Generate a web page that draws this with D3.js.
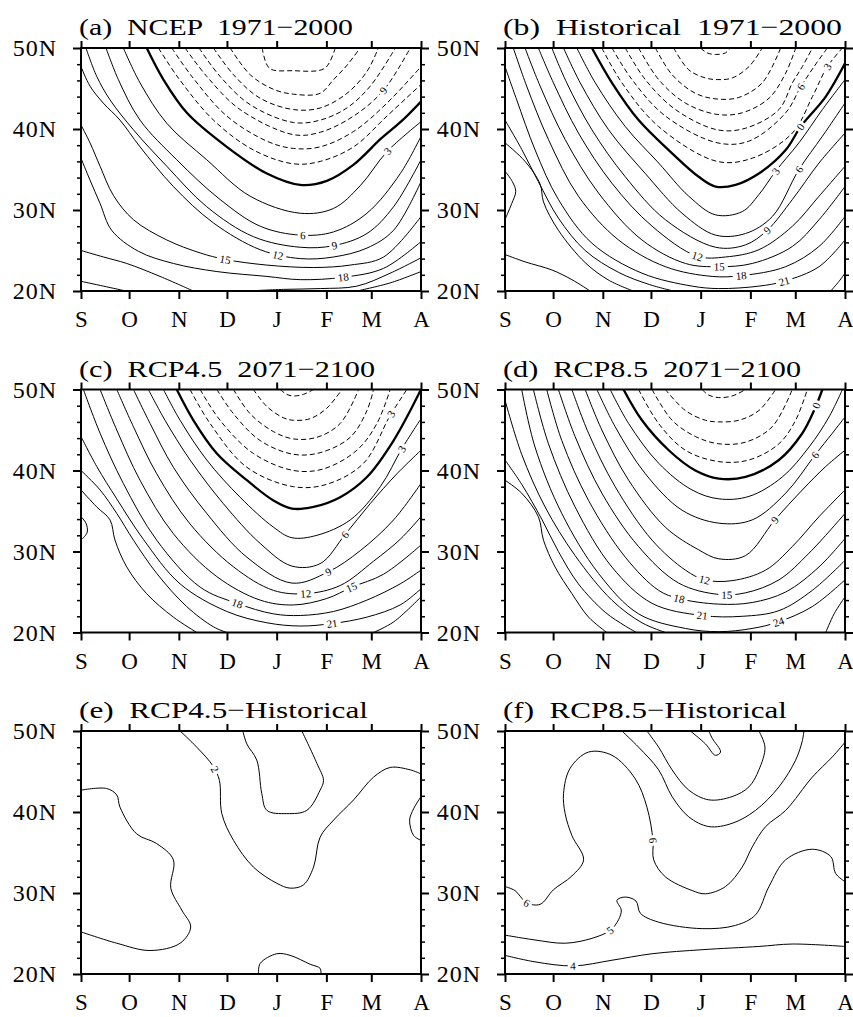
<!DOCTYPE html>
<html>
<head>
<meta charset="utf-8">
<script src="https://cdn.jsdelivr.net/npm/d3@7"></script>
<style>
  body { margin: 0; background: #fff; }
  text { font-family: "Liberation Serif", "Times New Roman", serif; }
</style>
</head>
<body>
<div id="chart"></div>
<script>
// x = days since 1 Sep, y = latitude (deg N)
const months = ["S", "O", "N", "D", "J", "F", "M", "A"]
const monthStart = [0, 30, 61, 91, 122, 153, 181, 212]
const latMajor = [20, 30, 40, 50]
const latMinor = [22, 24, 26, 28, 32, 34, 36, 38, 42, 44, 46, 48]
const titles = [
  "(a) NCEP 1971\u22122000", "(b) Historical 1971\u22122000",
  "(c) RCP4.5 2071\u22122100", "(d) RCP8.5 2071\u22122100",
  "(e) RCP4.5\u2212Historical", "(f) RCP8.5\u2212Historical"
]
const titleWidths = [274, 339, 296, 298, 289, 284]

// (a) NCEP 1971-2000 contour lines, [day, lat]
const ncep = [
  { level: -21, pts: [[113,50],[117.5,47.5],[132,47.2],[152,47.5],[158.5,50]] },
  { level: -18, pts: [[93,50],[105.5,46.7],[120,44.9],[132.5,44.3],[149,44.4],[157.5,46.1],[166,47.9],[174,50]] },
  { level: -15, pts: [[82.6,50],[95.1,46.7],[111.7,43.8],[132.5,42.4],[149.2,42.6],[165.8,44.4],[178.3,47.1],[185.4,50]] },
  { level: -12, pts: [[73.6,50],[86.7,46.5],[105.5,43],[132.5,40.8],[149.2,41.1],[165.8,42.6],[180.4,45.3],[196,50]] },
  { level: -9, pts: [[64.9,50],[78.4,46.5],[99.2,42.4],[132.5,39.3],[149.2,39.6],[170,41.6],[188.7,44.8],[205.3,50]] },
  { level: -6, pts: [[56.6,50],[69.1,46.5],[90.9,41.6],[115.9,38.5],[132.5,37.6],[149.2,37.8],[170,39.7],[190.8,43.2],[212,47.7]] },
  { level: -3, pts: [[48.3,50],[60.7,46.3],[82.6,41.1],[107.6,37.4],[132.5,35.7],[149.2,36],[170,37.8],[190.8,41.6],[212,45.5]] },
  { level: 0, pts: [[41,50],[51.4,46.1],[66,42],[90.9,37.8],[115.9,34.5],[136.7,33.1],[153.3,33.6],[170,35.6],[187,38.8],[200,41],[212,43.4]] },
  { level: 3, pts: [[26.4,50],[36.8,45.7],[53.5,40.7],[78.4,36.2],[105.5,31.7],[136.7,29.6],[157.5,30.2],[174.1,33],[190.8,37.2],[212,40.9]] },
  { level: 6, pts: [[15.6,50],[23.3,46.1],[36.8,41.1],[59.7,36.2],[86.7,31.3],[111.7,28],[136.7,26.9],[157.5,27.3],[178.3,29.6],[199.1,34.5],[212,39.1]] },
  { level: 9, pts: [[3.1,50],[9.8,46.5],[18.1,43.6],[32.7,39.9],[53.5,35.4],[78.4,30.4],[107.6,26.7],[136.7,25.4],[157.5,25.6],[178.3,27.1],[194.9,30.4],[212,36.2]] },
  { level: 12, pts: [[0,47.7],[5.6,45.3],[13.9,43.2],[24.3,41.1],[36.8,37.8],[57.6,32.9],[82.6,28.4],[111.7,25.1],[136.7,24],[157.5,24.2],[178.3,25.3],[194.9,27.5],[212,33.5]] },
  { level: 15, pts: [[0,40.5],[5.6,38.3],[11.9,35.4],[20.2,31.8],[32.7,28.8],[53.5,26.3],[74.3,24.7],[89.9,23.9],[115.9,23.2],[145,22.9],[167.9,23.2],[188.7,24.2],[212,29.2]] },
  { level: 18, pts: [[0,36.4],[5.6,33.7],[11.9,30.8],[19.1,27.5],[35.8,24.9],[57.6,23.4],[84.7,22.4],[115.9,21.8],[136.7,21.4],[163.7,21.7],[188.7,22.8],[212,26.1]] },
  { level: 21, pts: [[0,25],[14,24.2],[28.5,23.4],[49.3,21.8],[70,20]] },
  { level: 21, pts: [[103.4,20],[126.3,20.2],[149.2,20.3],[172,20.6],[192.8,22.2],[212,24.1]] },
  { level: 24, pts: [[0,21.2],[14,20.6],[28,20]] },
  { level: 24, pts: [[172,20],[192.8,21],[212,22.4]] }
]
const ncepLabels = [[138.3,26.9],[157.9,25.6],[122.1,24.0],[89.9,23.9],[163.7,21.7],[190.8,37.4],[188.7,44.8]]

// (b) Historical 1971-2000
const historical = [
  { level: -21, pts: [[121.9,50],[126,49.4],[131.3,49.2],[137.5,49.4],[140.6,50]] },
  { level: -18, pts: [[105.2,50],[114.6,47.3],[125,46.3],[132.3,46.1],[141.7,46.3],[152.1,47.7],[160.4,50]] },
  { level: -15, pts: [[93.8,50],[104.2,46.7],[118.8,44.4],[132.3,43.7],[145.8,43.9],[160.4,45.7],[171.9,50]] },
  { level: -12, pts: [[83.3,50],[95.8,46.1],[112.5,43.2],[132.3,41.8],[147.9,42],[164.6,43.8],[175,46.9],[181.3,50]] },
  { level: -9, pts: [[75,50],[87.5,46.1],[106.3,42.4],[132.3,39.9],[150,40.1],[170.8,42.4],[179.2,45.7],[185.4,47.7],[191.7,50]] },
  { level: -6, pts: [[66.7,50],[79.2,46.1],[100,41.6],[132.3,38.3],[152.1,38.5],[175,42],[184.4,45.2],[192.7,47.7],[201,50]] },
  { level: -3, pts: [[60.4,50],[72.9,45.7],[95.8,40.3],[132.3,36],[154.2,36.4],[179.2,39.5],[191.7,44],[201,47.7],[210.4,50]] },
  { level: 0, pts: [[54.2,50],[66.7,45.7],[83.3,41.1],[104.2,37],[120.8,34.1],[131.3,32.9],[143.8,33.1],[158.3,34.5],[175,37.4],[184.4,40.3],[200,44],[212,48.1]] },
  { level: 3, pts: [[44.8,50],[56.3,45.7],[75,40.3],[95.8,35.8],[114.6,31.7],[131.3,29.4],[147.9,29.8],[158.3,31.9],[168.8,34.8],[183.3,38.3],[197.9,42.4],[212,46.1]] },
  { level: 6, pts: [[36.5,50],[46.9,45.7],[64.6,39.9],[87.5,34.5],[110.4,29.6],[131.3,26.9],[150,27.1],[166.7,29.2],[183.3,35],[197.9,39.1],[212,43.2]] },
  { level: 9, pts: [[29.2,50],[38.5,45.7],[54.2,39.9],[75,34.1],[100,28.8],[131.3,25.4],[150,25.7],[163.5,27.5],[179.2,31.3],[195.8,35.8],[212,39.5]] },
  { level: 12, pts: [[20.8,50],[30.2,45.7],[45.8,39.5],[66.7,33.3],[91.7,28],[119.8,24.3],[137.5,24.2],[158.3,25.1],[179.2,28],[195.8,31.7],[212,35.4]] },
  { level: 15, pts: [[12.5,50],[21.9,45.3],[37.5,38.7],[58.3,32.1],[85.4,26.3],[112.5,23.4],[133.3,23],[154.2,23.4],[179.2,25.5],[195.8,28.8],[212,32.9]] },
  { level: 18, pts: [[5.2,50],[13.5,45.3],[27.1,38.7],[45.8,31.7],[70.8,26.3],[100,23],[129.2,21.8],[147.5,21.9],[175,23],[195.8,25.5],[212,29.2]] },
  { level: 21, pts: [[0,47.7],[7.3,43.6],[18.8,37.4],[33.3,31.3],[54.2,25.9],[85.4,22.2],[116.7,20.6],[133.3,20.3],[158.3,20.6],[174,21.2],[195.8,23],[212,26.3]] },
  { level: 24, pts: [[0,41.1],[10.4,37.5],[20.8,33.5],[33.3,29],[50,25],[70.8,22.3],[90,20.8],[105,20]] },
  { level: 27, pts: [[0,38.3],[12.5,36],[21.9,33.2],[24,31],[33.3,27.5],[50,23.5],[65,21.3],[80,20]] },
  { level: 30, pts: [[0,34.8],[4.6,33.5],[6.7,32.3],[4.2,30.8],[1.7,29.6],[0,28.8]] },
  { level: 27, pts: [[0,24.5],[12.5,23.6],[29.2,22.6],[41.7,21.4],[53.1,20]] },
  { level: 24, pts: [[203.1,20],[208.3,21.2],[212,22.2]] }
]
const historicalLabels = [[201,47.7],[184.4,45.2],[184.4,40.3],[168.8,34.8],[183.3,35],[163.5,27.5],[119.8,24.3],[133.3,23],[147.5,21.9],[174,21.2]]

// (c) RCP4.5 2071-2100
const rcp45 = [
  { level: -18, pts: [[124.2,50],[128.3,49.4],[132.5,49.2],[138.7,49.4],[145,50]] },
  { level: -15, pts: [[107.5,50],[115.9,47.9],[126.3,46.5],[132.5,46.2],[142.9,46.4],[153.3,47.7],[162.7,50]] },
  { level: -12, pts: [[95.1,50],[105.5,47],[120,44.8],[132.5,43.9],[147.1,44.1],[161.6,45.8],[173.1,50]] },
  { level: -9, pts: [[84.7,50],[95.1,47],[111.7,43.7],[132.5,42],[149.1,42.2],[167.9,44.1],[178.3,47.4],[182.4,50]] },
  { level: -6, pts: [[74.3,50],[86.7,46.2],[107.5,42.1],[132.5,40],[151.2,40.2],[172,42.5],[184.5,45.8],[192.8,50]] },
  { level: -3, pts: [[68,50],[80.5,45.8],[103.4,40.4],[132.5,38],[153.3,38.3],[176.2,40.9],[192.8,46.8],[203.2,50]] },
  { level: 0, pts: [[59.7,50],[70.1,46.2],[84.7,42.1],[103.4,38.8],[120,36.3],[131.5,35.3],[145,35.5],[161.6,36.7],[178.3,39.2],[194.9,43.7],[212,50]] },
  { level: 3, pts: [[51.4,50],[61.8,46.2],[78.4,41.3],[99.2,36.7],[120,33],[131.5,31.7],[147.1,32],[167.9,33.9],[186.6,38],[200.1,42.7],[212,46.4]] },
  { level: 6, pts: [[42,50],[52.4,46.2],[68,41.3],[88.8,35.9],[111.7,31],[131.5,28.2],[149.1,28.5],[164.7,32.1],[180.3,35.9],[197,39.6],[212,42.5]] },
  { level: 9, pts: [[32.7,50],[43.1,45.8],[57.6,40.4],[78.4,34.7],[103.4,29.3],[131.5,26.1],[154.3,27.5],[174.1,30.1],[194.9,33.9],[212,38.4]] },
  { level: 12, pts: [[22.3,50],[32.7,45.4],[47.2,39.6],[68,33.4],[95.1,28.1],[120,25.2],[140.4,24.8],[161.6,25.8],[182.4,28.8],[199,31.5],[212,34.3]] },
  { level: 15, pts: [[11.9,50],[22.3,45],[36.8,38.8],[57.6,32.2],[84.7,26.9],[111.7,24],[132.5,23.4],[153.3,24.2],[168.9,25.6],[188.7,27.2],[212,30.8]] },
  { level: 18, pts: [[1.5,50],[11.9,44.6],[26.4,38.4],[47.2,31.4],[74.3,25.6],[97.2,23.6],[120,22.3],[136.7,22.1],[157.5,22.6],[178.3,24],[199,26],[212,27.7]] },
  { level: 21, pts: [[0,44.2],[9.8,40.5],[22.3,36.5],[38.9,31.5],[61.8,26],[90.9,22.6],[115.9,21.2],[136.7,20.8],[156.4,21.1],[178.3,21.9],[199,23.4],[212,25.4]] },
  { level: 24, pts: [[0,40],[11.9,37.6],[22.3,34.7],[32.7,31.4],[47.2,27.3],[65.9,23.2],[82.6,20.7],[90.9,20]] },
  { level: 27, pts: [[0,37.6],[9.8,35.5],[18.1,33.9],[21.2,31.4],[28.5,28.1],[40.9,24.8],[57.6,21.9],[72.2,20]] },
  { level: 30, pts: [[0,34.3],[3.1,33.5],[3.9,32.4],[1.5,31.7],[0,31.4]] },
  { level: 24, pts: [[182.4,20],[194.9,21.3],[212,24.4]] }
]
const rcp45Labels = [[192.8,47],[200.1,42.7],[164.7,32.1],[154.3,27.5],[140.4,24.8],[168.9,25.6],[97.2,23.6],[156.4,21.1]]

// (d) RCP8.5 2071-2100
const rcp85 = [
  { level: -12, pts: [[122.9,50],[127.1,49.3],[133.3,49],[141.6,49.2],[150,50]] },
  { level: -9, pts: [[100,50],[112.5,47.4],[125,46.2],[133.3,46],[145.8,46.2],[158.3,47.4],[168.7,50]] },
  { level: -6, pts: [[91.7,50],[104.2,46.2],[118.7,44.2],[133.3,43.3],[150,43.5],[166.6,45.4],[179.1,50]] },
  { level: -3, pts: [[83.3,50],[95.8,45.8],[112.5,42.5],[133.3,41.1],[152.1,41.3],[170.8,43.3],[181.2,46.2],[188.5,50]] },
  { level: 0, pts: [[73.9,50],[85.4,46.2],[102.1,42.5],[118.7,40],[133.3,39],[150,39.2],[170.8,41.3],[185.4,44.6],[192.7,47.4],[197.9,50]] },
  { level: 3, pts: [[65.6,50],[77.1,45.8],[95.8,40.9],[116.6,37.6],[133.3,36.5],[152.1,36.8],[172.9,39.2],[189.6,42.9],[202,46.6],[210.4,50]] },
  { level: 6, pts: [[57.3,50],[68.7,45.4],[87.5,39.6],[110.4,35.1],[133.3,33.5],[154.1,33.9],[175,37.2],[193.3,41.9],[204.1,44.6],[212,46.6]] },
  { level: 9, pts: [[50,50],[60.4,45],[77.1,38.8],[100,33],[120.8,30.2],[133.3,29.1],[150,29.5],[168.3,33.9],[185.4,37.6],[200,40.5],[212,42.5]] },
  { level: 12, pts: [[41.7,50],[52.1,44.6],[68.7,38],[91.7,31.4],[112.5,27.7],[124.6,26.5],[141.6,26.4],[162.5,27.7],[179.1,30.6],[195.8,34.3],[212,37.6]] },
  { level: 15, pts: [[33.3,50],[43.7,44.2],[60.4,37.2],[83.3,30.6],[108.3,26.1],[133.3,24.7],[150,24.9],[170.8,26.5],[189.6,29.8],[212,34.7]] },
  { level: 18, pts: [[26,50],[35.4,43.7],[52.1,36.3],[75,29.3],[95.8,25.2],[108.3,24.2],[133.3,23.5],[154.1,23.7],[175,25],[195.8,28.1],[212,31.6]] },
  { level: 21, pts: [[17.7,50],[27.1,43.3],[43.7,35.5],[66.6,28.1],[91.7,23.6],[122.9,22.1],[147.9,22],[170.8,22.7],[191.6,25.2],[212,28.9]] },
  { level: 24, pts: [[10.4,50],[18.7,42.9],[35.4,34.7],[58.3,27.3],[83.3,22.3],[112.5,20.5],[133.3,20.1],[154.1,20.5],[170.4,21.3],[191.6,23.2],[212,26.5]] },
  { level: 27, pts: [[0,48.7],[10.4,42],[25,35.5],[43.7,29.5],[66.6,24],[85.4,21.2],[100,20]] },
  { level: 27, pts: [[0,41.3],[10.4,38.3],[22.9,34],[33.3,30],[45.8,26],[62.5,22.5],[75,20.8],[82,20]] },
  { level: 27, pts: [[0,38.8],[10.4,37.2],[20.8,34.3],[24,31.4],[31.2,28.1],[41.7,24.8],[52.1,21.9],[63.5,20]] },
  { level: 27, pts: [[200,20],[205.2,22.3],[212,24.4]] }
]
const rcp85Labels = [[192.7,48.1],[193.3,41.9],[168.3,33.9],[124.6,26.5],[138.5,24.8],[108.3,24.2],[122.9,22.1],[170.4,21.3]]

// (e) RCP4.5 - Historical
const diff45 = [
  { level: 2, pts: [[0,42.7],[16,42.9],[22.3,42.1],[24.3,40.6],[34.7,37.3],[47.2,36.1],[57.6,34.1],[56,30.6],[62.8,27.9],[68.4,25.8],[61.8,23.8],[43.1,22.9],[22.3,23.8],[0,25.2]] },
  { level: 2, pts: [[61.8,50],[72.2,48],[82.6,45.6],[86.3,43.9],[87.8,39.8],[95.1,36.5],[107.5,33.2],[122.1,31.2],[130.4,30.6],[138.7,31],[145,33.2],[149.1,36.9],[157.5,39],[170,41.5],[182.4,44.3],[192.8,45.5],[205.3,45.2],[212,44.7]] },
  { level: 3, pts: [[100.9,50],[103.4,48.4],[109.6,46.4],[112.7,42.3],[115.9,40.2],[128.3,39.8],[140.8,40.2],[149.1,42.7],[151.2,43.9],[147.1,46],[137.7,50]] },
  { level: 2, pts: [[212,41.9],[207.4,40.4],[204.9,39],[207.4,37.1],[212,36.5]] },
  { level: 2, pts: [[110.7,20],[111.7,21.3],[122.1,22.5],[130.4,22.3],[142.9,21.2],[149.1,20.7],[149.6,20]] }
]
const diff45Labels = [[82.6,45.2]]

// (f) RCP8.5 - Historical
const diff85 = [
  { level: 4, pts: [[0,22.3],[18.7,21.5],[42.7,21],[66.7,21.7],[91.7,22.5],[122.9,23],[158.3,23.4],[179.1,23.7],[212,23.4]] },
  { level: 5, pts: [[0,24.8],[18.7,24.2],[37.5,23.8],[54.2,24.4],[65.6,25.4],[70.8,26.7],[72.5,27.9],[69.8,29.1],[75,29.5],[81.7,29],[84.4,27.5],[95.8,26.4],[122.9,25.6],[143.7,26],[156.2,27.3],[164.6,30.8],[175,34.1],[191.6,35.4],[203.1,34.5],[206.2,32.4],[212,31.4]] },
  { level: 6, pts: [[0,30.8],[6.2,30.3],[13.5,28.8],[21.9,28.6],[30.2,30.4],[41.7,32.1],[49,34.1],[41.7,37.1],[37.5,39.8],[36.5,42.3],[40.6,45.4],[52.1,47.4],[66.7,47],[81.2,44.1],[88.5,40.6],[92.3,36.5],[92.7,34.1],[100,32],[116.7,30.3],[125,29.9],[137.5,30.8],[147.9,33.2],[154.2,35.7],[162.5,38.2],[175,40.2],[191.6,44.3],[204.1,46.8],[212,48.6]] },
  { level: 7, pts: [[72.9,50],[83.3,48],[95.8,45.2],[104.2,41.9],[114.6,39.4],[127.1,38.2],[141.6,38.6],[156.2,40.2],[170.8,43.1],[181.2,46.4],[185.4,48.8],[186.4,50]] },
  { level: 8, pts: [[88.5,50],[95.8,48],[104.2,45.2],[114.6,42.7],[127.1,41.5],[141.6,41.9],[152.1,43.1],[158.3,45.2],[162.1,48],[158.3,50]] },
  { level: 9, pts: [[115.6,50],[125,48.4],[131.2,47],[134.4,47.4],[129.2,49.1],[127.1,50]] }
]
const diff85Labels = [[42.7,21],[65.6,25.4],[13.5,28.8],[92.3,36.5]]

const panels = [
  { lines: ncep, labels: ncepLabels },
  { lines: historical, labels: historicalLabels },
  { lines: rcp45, labels: rcp45Labels },
  { lines: rcp85, labels: rcp85Labels },
  { lines: diff45, labels: diff45Labels },
  { lines: diff85, labels: diff85Labels }
]

const WIDTH = 853, HEIGHT = 1017
const PW = 340, PH = 243
const LEFTS = [81, 505]
const TOPS = [48, 389.5, 731]

const svg = d3.select("#chart").append("svg")
  .attr("width", WIDTH)
  .attr("height", HEIGHT)

const x = d3.scaleLinear().domain([0, 212]).range([0, PW])
const y = d3.scaleLinear().domain([20, 50]).range([PH, 0])

const line = d3.line()
  .x(d => x(d[0]))
  .y(d => y(d[1]))
  .curve(d3.curveCatmullRom.alpha(0.5))

panels.forEach((p, i) => {
  const g = svg.append("g")
    .attr("transform", `translate(${LEFTS[i % 2]}, ${TOPS[Math.floor(i / 2)]})`)

  g.append("clipPath").attr("id", "clip" + i)
    .append("rect").attr("width", PW).attr("height", PH)

  const cg = g.append("g").attr("clip-path", `url(#clip${i})`)

  cg.selectAll("path.contour")
    .data(p.lines)
    .join("path")
      .attr("class", "contour")
      .attr("d", d => line(d.pts))
      .attr("fill", "none")
      .attr("stroke", "#000")
      .attr("stroke-width", d => d.level === 0 ? 2.3 : 1)
      .attr("stroke-dasharray", d => d.level < 0 ? "5,3" : null)

  addLabels(cg, p.labels)

  // minor ticks
  g.append("g").attr("class", "minor")
    .call(d3.axisLeft(y).tickValues(latMinor).tickSize(4).tickFormat(""))
  g.append("g").attr("class", "minor").attr("transform", `translate(${PW}, 0)`)
    .call(d3.axisRight(y).tickValues(latMinor).tickSize(4).tickFormat(""))

  // major ticks
  g.append("g").attr("class", "ylab")
    .call(d3.axisLeft(y).tickValues(latMajor).tickSize(8).tickPadding(16).tickFormat(d => d + "N"))
  g.append("g").attr("transform", `translate(${PW}, 0)`)
    .call(d3.axisRight(y).tickValues(latMajor).tickSize(8).tickFormat(""))
  g.append("g").attr("class", "xlab").attr("transform", `translate(0, ${PH})`)
    .call(d3.axisBottom(x).tickValues(monthStart).tickSize(8).tickPadding(12).tickFormat((d, k) => months[k]))
  g.append("g")
    .call(d3.axisTop(x).tickValues(monthStart).tickSize(7).tickFormat(""))

  g.selectAll(".domain").remove()
  g.selectAll(".tick line").attr("stroke", "#000").attr("stroke-width", 2)
  g.selectAll(".minor .tick line").attr("stroke-width", 1.5)
  g.selectAll(".tick text")
    .attr("fill", "#000")
    .attr("font-family", "Liberation Serif")
  g.selectAll(".ylab .tick text")
    .attr("font-size", "24px")
    .attr("letter-spacing", "1px")
  g.selectAll(".xlab .tick text")
    .attr("font-size", "23px")

  g.append("rect")
    .attr("width", PW).attr("height", PH)
    .attr("fill", "none").attr("stroke", "#000").attr("stroke-width", 2)

  g.append("text")
    .attr("x", -2).attr("y", -13)
    .attr("font-size", "24px")
    .attr("word-spacing", "6px")
    .attr("textLength", titleWidths[i])
    .attr("lengthAdjust", "spacingAndGlyphs")
    .attr("fill", "#000")
    .text(titles[i])
})

function addLabels(g, labels) {
  const nodes = g.selectAll("path.contour").nodes()
  labels.forEach(([day, lat]) => {
    const tx = x(day), ty = y(lat)
    let best = null
    nodes.forEach(n => {
      const len = n.getTotalLength()
      for (let l = 0; l <= len; l += 1) {
        const pt = n.getPointAtLength(l)
        const dist = (pt.x - tx) ** 2 + (pt.y - ty) ** 2
        if (!best || dist < best.dist) best = { dist, l, n, pt, len }
      }
    })
    const a = best.n.getPointAtLength(Math.max(0, best.l - 4))
    const b = best.n.getPointAtLength(Math.min(best.len, best.l + 4))
    let ang = Math.atan2(b.y - a.y, b.x - a.x) * 180 / Math.PI
    if (ang > 90) ang -= 180
    if (ang < -90) ang += 180
    const txt = String(Math.abs(d3.select(best.n).datum().level))
    const w = txt.length * 6.5 + 4
    const lg = g.append("g")
      .attr("transform", `translate(${best.pt.x}, ${best.pt.y}) rotate(${ang})`)
    lg.append("rect")
      .attr("x", -w / 2).attr("y", -5)
      .attr("width", w).attr("height", 10)
      .attr("fill", "#fff")
    lg.append("text")
      .attr("text-anchor", "middle")
      .attr("dy", "0.35em")
      .attr("fill", "#000")
      .attr("font-family", "Liberation Sans")
      .attr("font-size", "11px")
      .text(txt)
  })
}
</script>
</body>
</html>
